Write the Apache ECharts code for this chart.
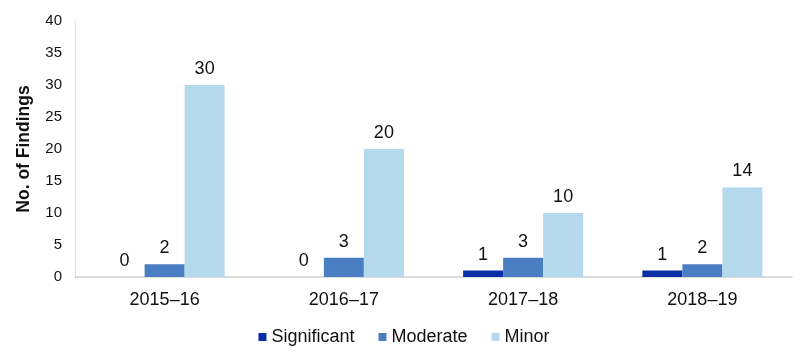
<!DOCTYPE html>
<html><head><meta charset="utf-8">
<script src="https://cdn.jsdelivr.net/npm/echarts@6/dist/echarts.min.js"></script>
<style>html,body{margin:0;padding:0;background:#fff}#c{width:808px;height:361px}</style>
</head><body><div id="c"></div>
<script>
const categories = ['2015–16','2016–17','2017–18','2018–19'];
const significant = [0,0,1,1];
const moderate = [2,3,3,2];
const minor = [30,20,10,14];
const yTicks = {min:0,max:40,interval:5};

const chart = echarts.init(document.getElementById('c'));
const font = 'Liberation Sans, Arial, sans-serif';
const lbl = {show:true,position:'top',distance:7,color:'#111',fontSize:18,fontFamily:font};
chart.setOption({
  animation:false,
  textStyle:{fontFamily:font},
  grid:{left:75,right:16,top:21,bottom:84},
  legend:{bottom:10,left:'center',itemWidth:8,itemHeight:8,itemGap:24,icon:'rect',
    textStyle:{fontSize:18,color:'#111',fontFamily:font},
    data:['Significant','Moderate','Minor']},
  xAxis:{type:'category',data:categories,
    axisLine:{lineStyle:{color:'#d0d0d0',width:1.5}},axisTick:{show:false},
    axisLabel:{fontSize:18,color:'#111',margin:14,fontFamily:font}},
  yAxis:{type:'value',min:yTicks.min,max:yTicks.max,interval:yTicks.interval,
    name:'No. of Findings',nameLocation:'middle',nameGap:42,
    nameTextStyle:{fontSize:17.5,fontWeight:'bold',color:'#111',fontFamily:font},
    axisLine:{show:true,lineStyle:{color:'#e0e0e0'}},splitLine:{show:false},
    axisLabel:{fontSize:15,color:'#111',margin:13,fontFamily:font}},
  series:[
    {name:'Significant',type:'bar',data:significant,barWidth:40,barGap:'0%',itemStyle:{color:'#0a2ea6'},label:lbl},
    {name:'Moderate',type:'bar',data:moderate,barWidth:40,barGap:'0%',itemStyle:{color:'#4a7ec2'},label:lbl},
    {name:'Minor',type:'bar',data:minor,barWidth:40,barGap:'0%',itemStyle:{color:'#b4d9ec'},label:lbl}
  ]
});
</script></body></html>
